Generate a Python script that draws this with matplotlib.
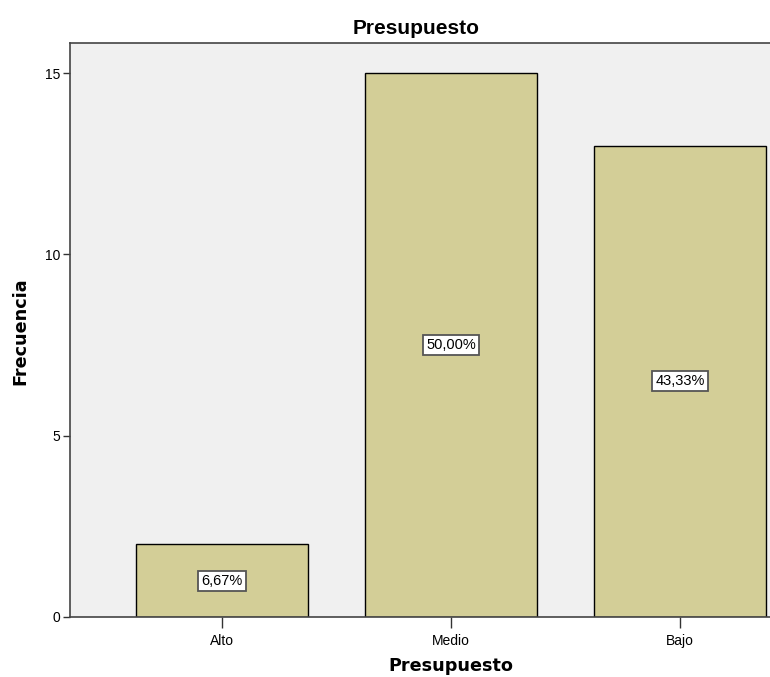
import matplotlib
matplotlib.use("Agg")
from matplotlib import pyplot as plt
import numpy as np

categorias = ["Alto", "Medio", "Bajo"]
frecuencias = [2, 15, 13]
porcentajes = ["6,67%", "50,00%", "43,33%"]
yticks = [0, 5, 10, 15]

BG = "#F0F0F0"
BAR = "#D3CE97"
ARIAL = ["Liberation Sans", "DejaVu Sans"]

fig = plt.figure(figsize=(7.7, 6.77), dpi=100)
# plot area extends past the right edge, as in the original export
ax = fig.add_axes([70/770, 1 - 617/677, (832 - 70)/770, (617 - 43)/677])
ax.set_facecolor(BG)

x = np.arange(len(categorias))
ax.bar(x, frecuencias, width=0.75, color=BAR, edgecolor="black", linewidth=1, zorder=2)

for xi, h, p in zip(x, frecuencias, porcentajes):
    ax.text(xi, h/2, p, ha="center", va="center", fontsize=10.5, family=ARIAL, zorder=3,
            bbox=dict(boxstyle="square,pad=0.2", facecolor="white", edgecolor="#555555", linewidth=1.3))

ax.set_xlim(-0.664, 2.664)
ax.set_ylim(0, 15.83)
ax.set_xticks(x)
ax.set_xticklabels(categorias, fontsize=10, family=ARIAL)
ax.set_yticks(yticks)
ax.set_yticklabels([str(t) for t in yticks], fontsize=10, family=ARIAL)
ax.tick_params(axis="x", length=8, width=1, color="#333333", pad=4)
ax.tick_params(axis="y", length=5, width=1, color="#333333", pad=2)

for s in ["top", "left", "bottom", "right"]:
    ax.spines[s].set_color("#444444")
    ax.spines[s].set_linewidth(1.2)

fig.text(416/770, 1 - 28/677, "Presupuesto", ha="center", va="center", fontsize=15, fontweight="bold", family=ARIAL)
fig.text(451/770, 1 - 671/677, "Presupuesto", ha="center", va="baseline", fontsize=12.7, fontweight="bold")
fig.text(20/770, 1 - 331/677, "Frecuencia", ha="center", va="center", rotation=90, fontsize=12.7, fontweight="bold")

fig.savefig("out.png", dpi=100, facecolor="white")
